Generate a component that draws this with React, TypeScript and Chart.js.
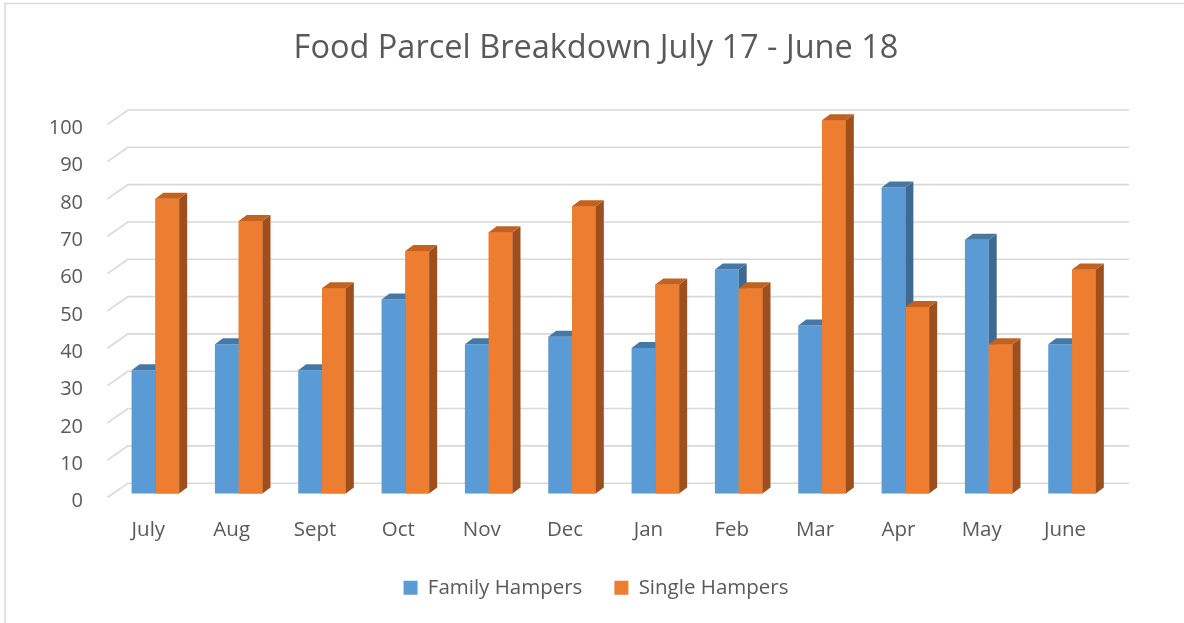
import React, { useEffect, useRef } from "react";
import { Chart, registerables } from "chart.js";

Chart.register(...registerables);

const months = ["July", "Aug", "Sept", "Oct", "Nov", "Dec", "Jan", "Feb", "Mar", "Apr", "May", "June"];
const familyHampers = [33, 40, 33, 52, 40, 42, 39, 60, 45, 82, 68, 40];
const singleHampers = [79, 73, 55, 65, 70, 77, 56, 55, 100, 50, 40, 60];
const yTicks = [0, 10, 20, 30, 40, 50, 60, 70, 80, 90, 100];
const titleText = "Food Parcel Breakdown July 17 - June 18";

const FONT = "'Open Sans', 'Noto Sans', sans-serif";
const TEXT = "#595959";
const GRID = "#d9d9d9";
const DX = 8;
const DY = 6;

const faceColors = [
  { side: "#3c6a92", top: "#4678a6" },
  { side: "#9e4f1e", top: "#c3621f" },
];

function drawFaces(ctx: any, el: any, cols: { side: string; top: string }) {
  const { x, y, base, width } = el.getProps(["x", "y", "base", "width"], true);
  const l = x - width / 2;
  const r = x + width / 2;
  ctx.fillStyle = cols.side;
  ctx.beginPath();
  ctx.moveTo(r, y);
  ctx.lineTo(r + DX, y - DY);
  ctx.lineTo(r + DX, base - DY);
  ctx.lineTo(r, base);
  ctx.closePath();
  ctx.fill();
  ctx.fillStyle = cols.top;
  ctx.beginPath();
  ctx.moveTo(l, y);
  ctx.lineTo(l + DX, y - DY);
  ctx.lineTo(r + DX, y - DY);
  ctx.lineTo(r, y);
  ctx.closePath();
  ctx.fill();
}

const frame3d = {
  id: "frame3d",
  beforeDraw(chart: any) {
    const { ctx, width, height } = chart;
    ctx.save();
    ctx.strokeStyle = GRID;
    ctx.lineWidth = 1.5;
    ctx.beginPath();
    ctx.moveTo(5, height);
    ctx.lineTo(5, 3.5);
    ctx.lineTo(width, 3.5);
    ctx.stroke();
    ctx.restore();
  },
  beforeDatasetsDraw(chart: any) {
    const { ctx, chartArea } = chart;
    const y = chart.scales.y;
    ctx.save();
    ctx.strokeStyle = GRID;
    ctx.lineWidth = 1.6;
    y.ticks.forEach((t: any) => {
      const yb = y.getPixelForValue(t.value);
      ctx.beginPath();
      ctx.moveTo(chartArea.left - 6.3, yb + 4);
      ctx.lineTo(chartArea.left + 14.3, yb - 10.3);
      ctx.lineTo(chartArea.right + 15.3, yb - 10.3);
      ctx.stroke();
    });
    ctx.restore();
  },
  afterDatasetsDraw(chart: any) {
    const { ctx } = chart;
    const m0 = chart.getDatasetMeta(0);
    const m1 = chart.getDatasetMeta(1);
    ctx.save();
    m0.data.forEach((el: any) => drawFaces(ctx, el, faceColors[0]));
    m1.data.forEach((el: any) => {
      el.draw(ctx);
      drawFaces(ctx, el, faceColors[1]);
    });
    ctx.restore();
  },
};

export default function App() {
  const ref = useRef<HTMLCanvasElement>(null);
  useEffect(() => {
    if (!ref.current) return;
    Chart.defaults.font.family = FONT;
    const chart = new Chart(ref.current, {
      type: "bar",
      data: {
        labels: months,
        datasets: [
          {
            label: "Family Hampers",
            data: familyHampers,
            backgroundColor: "#5b9bd5",
            borderWidth: 0,
            clip: false as any,
          },
          {
            label: "Single Hampers",
            data: singleHampers,
            backgroundColor: "#ed7d31",
            borderWidth: 0,
            clip: false as any,
          },
        ],
      },
      options: {
        responsive: false,
        animation: false,
        layout: { padding: { left: 40, right: 32, top: 0, bottom: 15 } },
        datasets: { bar: { categoryPercentage: 0.571, barPercentage: 1 } },
        plugins: {
          title: {
            display: true,
            text: titleText,
            color: TEXT,
            font: { family: FONT, size: 32.5, weight: "normal" },
            padding: { top: 29, bottom: 52.3 },
          },
          legend: {
            position: "bottom",
            labels: {
              color: TEXT,
              font: { family: FONT, size: 20.5 },
              boxWidth: 14,
              boxHeight: 14,
              padding: 32,
            },
          },
          tooltip: { enabled: false },
        },
        scales: {
          x: {
            grid: { display: false, drawTicks: false },
            border: { display: false },
            ticks: {
              color: TEXT,
              font: { family: FONT, size: 20.5 },
              padding: 24,
              labelOffset: -7,
              maxRotation: 0,
            },
            afterFit: (s: any) => {
              s.height = 52;
            },
          },
          y: {
            min: 0,
            max: 100,
            afterBuildTicks: (s: any) => {
              s.ticks = yTicks.map((v) => ({ value: v }));
            },
            grid: { display: false, drawTicks: false },
            border: { display: false },
            ticks: {
              color: TEXT,
              font: { family: FONT, size: 20 },
              padding: 30.7,
              labelOffset: 8,
            },
            afterFit: (s: any) => {
              s.width = 73.7;
            },
          },
          y2: {
            position: "right",
            min: 0,
            max: 100,
            grid: { display: false, drawTicks: false },
            border: { display: false },
            ticks: { display: false },
            afterFit: (s: any) => {
              s.width = 38.3;
            },
          },
        },
      },
      plugins: [frame3d],
    });
    return () => chart.destroy();
  }, []);
  return (
    <div style={{ position: "absolute", left: 0, top: 0, width: 1184, height: 623, background: "#fff" }}>
      <canvas ref={ref} width={1184} height={623} />
    </div>
  );
}
